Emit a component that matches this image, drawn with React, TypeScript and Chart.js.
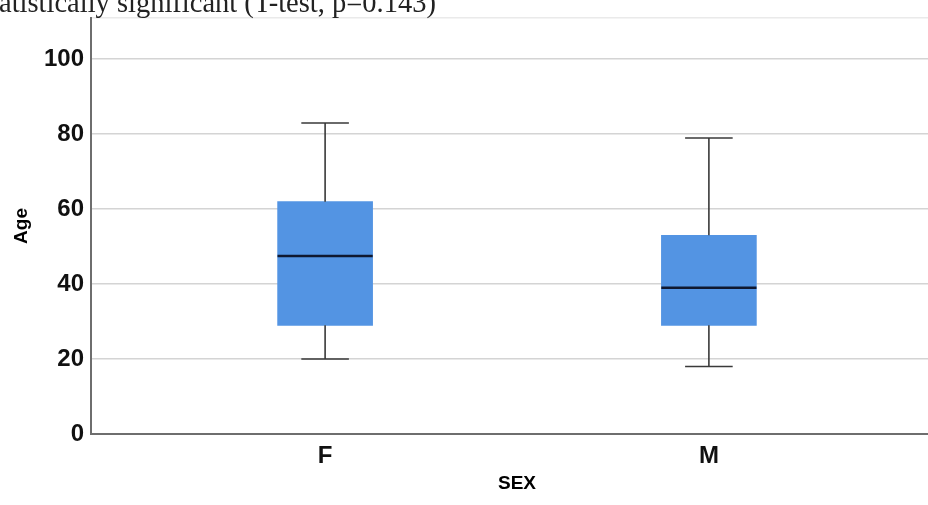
import React, { useEffect, useRef } from 'react';
import { Chart, registerables } from 'chart.js';

Chart.register(...registerables);

// ---- data ----
const categories = ['F', 'M'];
const whiskerLow = [20, 18];
const q1 = [29, 29];
const median = [47.5, 39];
const q3 = [62, 53];
const whiskerHigh = [83, 79];
const yTickValues = [0, 20, 40, 60, 80, 100];
const Y_MAX = 111;
const yAxisTitle = 'Age';
const xAxisTitle = 'SEX';
const captionText = 'atistically significant (T-test, p=0.143)';

export default function App() {
  const ref = useRef<HTMLCanvasElement>(null);

  useEffect(() => {
    document.body.style.margin = '0';
    document.body.style.overflow = 'hidden';
    document.documentElement.style.overflow = 'hidden';

    const BOX_HALF = 0.124;
    const CAP_HALF = 0.062;
    const xs = categories.map((_, i) => i + 1);

    const whiskerPts: any[] = [];
    xs.forEach((x, i) => {
      whiskerPts.push({ x, y: whiskerLow[i] }, { x, y: q1[i] }, { x, y: null });
      whiskerPts.push({ x, y: q3[i] }, { x, y: whiskerHigh[i] }, { x, y: null });
      whiskerPts.push({ x: x - CAP_HALF, y: whiskerLow[i] }, { x: x + CAP_HALF, y: whiskerLow[i] }, { x, y: null });
      whiskerPts.push({ x: x - CAP_HALF, y: whiskerHigh[i] }, { x: x + CAP_HALF, y: whiskerHigh[i] }, { x, y: null });
    });
    const medianPts: any[] = [];
    xs.forEach((x, i) => {
      medianPts.push({ x: x - BOX_HALF, y: median[i] }, { x: x + BOX_HALF, y: median[i] }, { x, y: null });
    });

    const tickFont = { family: 'Liberation Sans, Arial, sans-serif', size: 24, weight: 'bold' as const };
    const titleFont = { family: 'Liberation Sans, Arial, sans-serif', size: 19, weight: 'bold' as const };

    const chart = new Chart(ref.current!, {
      type: 'bar',
      data: {
        datasets: [
          {
            type: 'line',
            data: medianPts,
            borderColor: '#0f1830',
            borderWidth: 2.5,
            pointRadius: 0,
            fill: false,
            spanGaps: false,
            order: 1,
          } as any,
          {
            type: 'line',
            data: whiskerPts,
            borderColor: '#3a3a3a',
            borderWidth: 1.6,
            pointRadius: 0,
            fill: false,
            spanGaps: false,
            order: 2,
          } as any,
          {
            type: 'bar',
            data: xs.map((x, i) => ({ x, y: [q1[i], q3[i]] })),
            backgroundColor: '#5394e3',
            borderWidth: 0,
            barThickness: 95,
            order: 3,
          } as any,
        ],
      },
      options: {
        animation: false,
        responsive: true,
        maintainAspectRatio: false,
        layout: { padding: { top: 18, right: 2, left: 0, bottom: 0 } },
        plugins: { legend: { display: false }, tooltip: { enabled: false } },
        scales: {
          x: {
            type: 'linear',
            offset: false,
            min: 0.39,
            max: 2.61,
            afterBuildTicks: (s: any) => {
              s.ticks = xs.map((v) => ({ value: v }));
            },
            afterFit: (s: any) => {
              s.height = 71;
              s.paddingLeft = 0;
              s.paddingRight = 0;
            },
            ticks: {
              padding: 8,
              font: tickFont,
              color: '#111',
              autoSkip: false,
              maxRotation: 0,
              callback: (v: any) => categories[Math.round(v) - 1] ?? '',
            },
            grid: { display: false, drawTicks: false },
            border: { display: true, color: '#6e6e6e', width: 2 },
            title: {
              display: true,
              text: xAxisTitle,
              font: titleFont,
              color: '#000',
              padding: { top: 0, bottom: 10 },
            },
          },
          y: {
            type: 'linear',
            min: 0,
            max: Y_MAX,
            afterFit: (s: any) => {
              s.width = 91;
              s.paddingTop = 0;
              s.paddingBottom = 0;
            },
            ticks: {
              stepSize: 20,
              padding: 7,
              font: tickFont,
              color: '#111',
              callback: (v: any) => (yTickValues.includes(v) ? String(v) : ''),
            },
            grid: {
              drawTicks: false,
              color: (ctx: any) => (ctx.tick && ctx.tick.value === Y_MAX ? '#eaeaea' : '#d4d4d4'),
              lineWidth: 1.5,
            },
            border: { display: true, color: '#6e6e6e', width: 2 },
            title: {
              display: true,
              text: yAxisTitle,
              font: titleFont,
              color: '#000',
              padding: { top: 10, bottom: 0 },
            },
          },
        },
      },
    });
    return () => chart.destroy();
  }, []);

  return (
    <div style={{ position: 'relative', width: 945, height: 505, overflow: 'hidden' }}>
      <canvas ref={ref} />
      <div
        style={{
          position: 'absolute',
          left: -1,
          top: -11,
          fontFamily: '"Liberation Serif", "DejaVu Serif", serif',
          fontSize: 28.5,
          lineHeight: '28px',
          color: '#222',
          whiteSpace: 'nowrap',
        }}
      >
        {captionText}
      </div>
    </div>
  );
}
